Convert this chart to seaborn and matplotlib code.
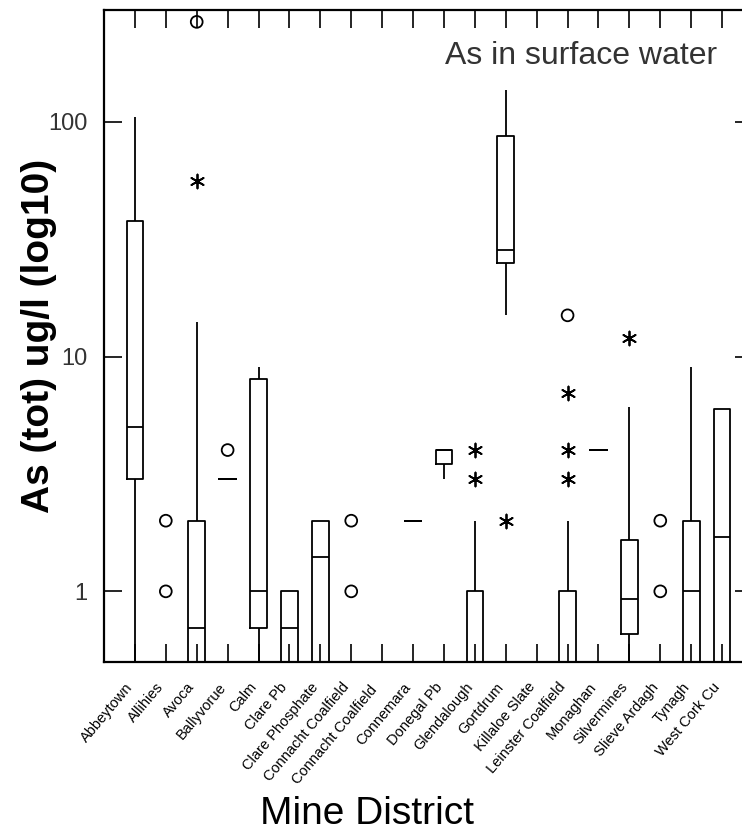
import numpy as np
import pandas as pd
import matplotlib
matplotlib.use("Agg")
import matplotlib.pyplot as plt
from matplotlib.ticker import NullLocator, FixedLocator, FixedFormatter
from matplotlib.transforms import ScaledTranslation
import seaborn as sns

# ---------------- data ----------------
districts = ["Abbeytown", "Allihies", "Avoca", "Ballyvorue", "Calm", "Clare Pb",
             "Clare Phosphate", "Connacht Coalfield", "Connacht Coalfield ",
             "Connemara", "Donegal Pb", "Glendalough", "Gortdrum", "Killaloe Slate",
             "Leinster Coalfield", "Monaghan", "Silvermines", "Slieve Ardagh",
             "Tynagh", "West Cork Cu"]

# box summaries (values below 0.5 lie under the axis floor and are hidden)
whisker_low = [0.3, 0.3, 0.3, 3, 0.3, 0.3, 0.3, 0.3, 0.3, 2,
               3, 0.3, 15, 0.3, 0.3, 4, 0.3, 0.3, 0.3, 0.3]
quart_low = [3, 0.3, 0.3, 3, 0.7, 0.3, 0.3, 0.3, 0.3, 2,
             3.5, 0.3, 25, 0.3, 0.3, 4, 0.66, 0.3, 0.3, 0.3]
medians = [5, 0.3, 0.7, 3, 1, 0.7, 1.4, 0.3, 0.3, 2,
           4, 0.3, 28.5, 0.3, 0.3, 4, 0.93, 0.3, 1, 1.7]
quart_high = [38, 0.3, 2, 3, 8, 1, 2, 0.3, 0.3, 2,
              4, 1, 87, 0.3, 1, 4, 1.65, 0.3, 2, 6]
whisker_high = [105, 0.3, 14, 3, 9, 1, 2, 0.3, 0.3, 2,
                4, 2, 137, 0.3, 2, 4, 6.1, 0.3, 9, 6]

# far outside values (circles)
far_district = ["Allihies", "Allihies", "Avoca", "Ballyvorue",
                "Connacht Coalfield", "Connacht Coalfield",
                "Leinster Coalfield", "Slieve Ardagh", "Slieve Ardagh"]
far_value = [2, 1, 267, 4, 2, 1, 15, 2, 1]

# outside values (asterisks)
out_district = ["Avoca", "Glendalough", "Glendalough", "Gortdrum",
                "Leinster Coalfield", "Leinster Coalfield", "Leinster Coalfield",
                "Silvermines"]
out_value = [56, 4, 3, 2, 7, 4, 3, 12]

y_ticks = [1, 10, 100]
y_tick_labels = ["1", "10", "100"]

# ---------------- build tables ----------------
rows = []
for i, d in enumerate(districts):
    for v in (whisker_low[i], quart_low[i], medians[i], quart_high[i], whisker_high[i]):
        rows.append({"district": d, "value": v})
box_df = pd.DataFrame(rows)
far_df = pd.DataFrame({"district": far_district, "value": far_value})
out_df = pd.DataFrame({"district": out_district, "value": out_value})

# ---------------- plotting ----------------
sns.set_theme(style="white")
plt.rcParams["font.family"] = ["Liberation Sans", "DejaVu Sans"]

W, H = 742, 835
fig = plt.figure(figsize=(W / 100, H / 100), dpi=100)
ax = fig.add_axes([104 / W, 173 / H, 649 / W, 652 / H])

lw = 1.3
sns.boxplot(data=box_df, x="district", y="value", order=districts, ax=ax,
            log_scale=True, whis=(0, 100), showfliers=False, showcaps=False,
            width=0.54, fill=False, color="black", linecolor="black",
            linewidth=lw)

sns.stripplot(data=far_df, x="district", y="value", order=districts, ax=ax,
              jitter=False, marker="o", size=8.5, color="black",
              facecolors="none", edgecolor="black", linewidth=1.3, zorder=4)
ax.collections[-1].set_facecolor("none")

sns.stripplot(data=out_df, x="district", y="value", order=districts, ax=ax,
              jitter=False, marker=(6, 2, 0), size=10, color="black",
              edgecolor="black", linewidth=1.3, zorder=4)

ax.set_xlim(-1, len(districts))
ax.set_ylim(0.5, 300)
ax.yaxis.set_major_locator(FixedLocator(y_ticks))
ax.yaxis.set_major_formatter(FixedFormatter(y_tick_labels))
ax.yaxis.set_minor_locator(NullLocator())

ax.tick_params(axis="both", which="major", direction="in", length=13,
               width=1.2, color="black", top=True, right=True, bottom=True,
               left=True, labeltop=False, labelright=False,
               labelbottom=True, labelleft=True)
ax.tick_params(axis="y", labelsize=17, labelcolor="#333333", pad=12)
ax.set_xticks(range(len(districts)))
ax.set_xticklabels(districts, rotation=50, ha="right", rotation_mode="anchor",
                   fontsize=10.5, color="black")
ax.tick_params(axis="x", pad=10)
offset = ScaledTranslation(-7 / 72, -3 / 72, fig.dpi_scale_trans)
for lab in ax.get_xticklabels():
    lab.set_transform(lab.get_transform() + offset)

for sp in ax.spines.values():
    sp.set_linewidth(1.6)
    sp.set_color("black")
    sp.set_visible(True)

ax.set_xlabel("Mine District", fontsize=28, color="black")
ax.set_ylabel("As (tot) ug/l (log10)", fontsize=28, fontweight="bold",
              color="black")
ax.xaxis.set_label_coords(0.405, -0.205)
ax.yaxis.set_label_coords(-0.072, 0.5)

ax.text(0.945, 0.953, "As in surface water", transform=ax.transAxes,
        ha="right", va="top", fontsize=23, color="#333333")

fig.savefig("out.png", dpi=100)
